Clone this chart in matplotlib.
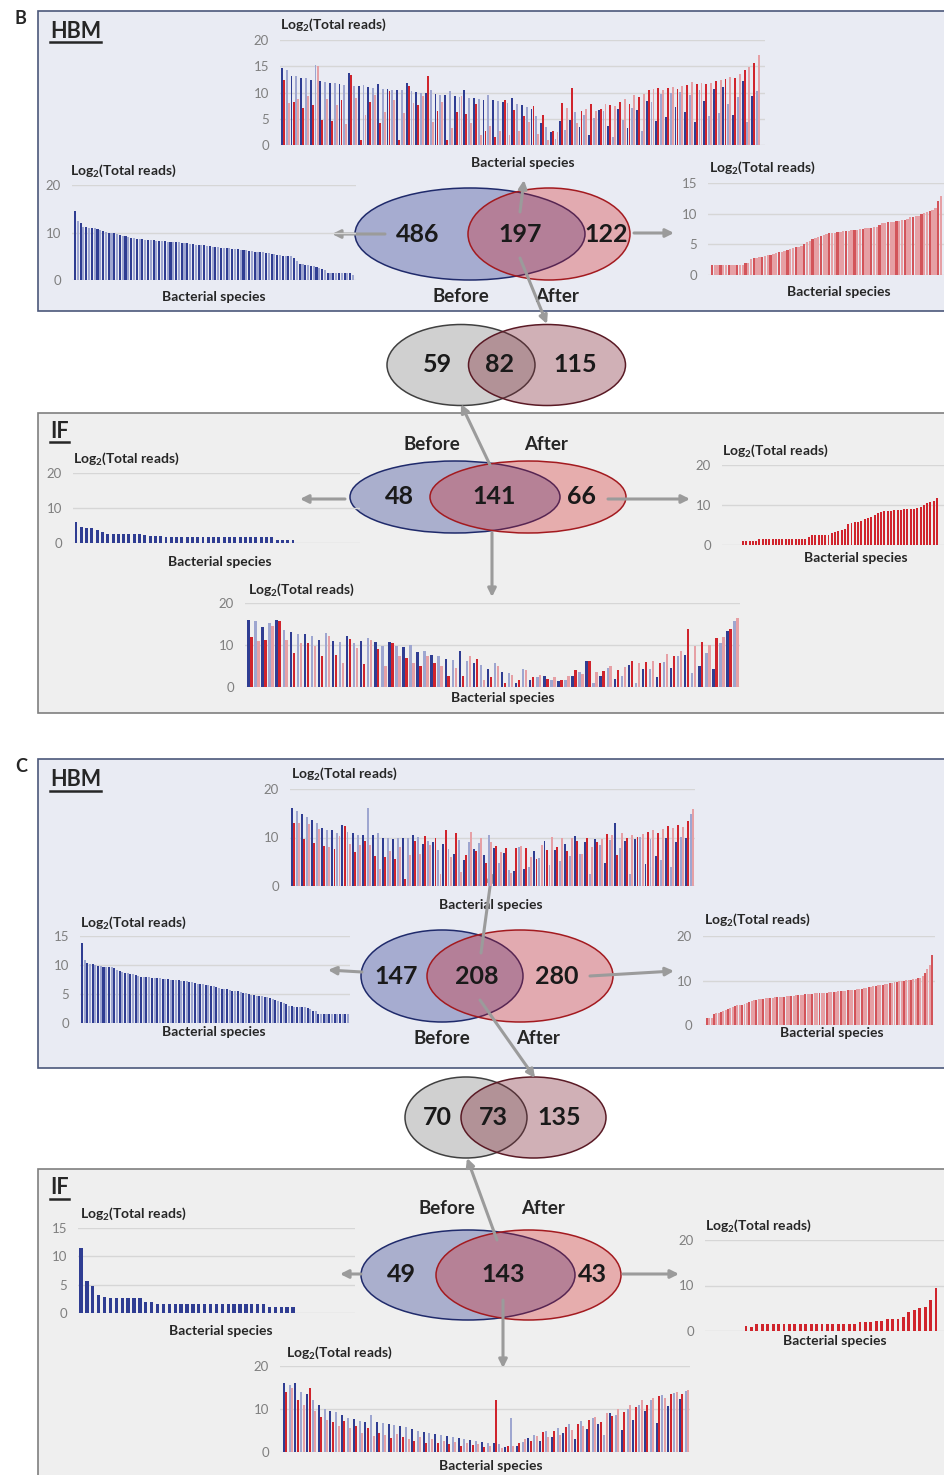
import numpy as np
import matplotlib.pyplot as plt
from matplotlib.patches import Ellipse, Rectangle

# species read counts, log2 scale
# panel B, HBM
hbm_b_shared_before = [
    14.7, 14.3, 13.2, 13.1, 12.8, 12.7, 12.4, 15.3, 12.1, 12.0,
    11.9, 11.8, 11.6, 11.4, 13.7, 11.3, 11.2, 11.4, 11.0, 10.9,
    11.6, 10.7, 10.6, 10.5, 10.4, 10.4, 11.9, 10.3, 10.1, 10.0,
    9.9, 10.4, 9.7, 9.6, 9.5, 10.3, 9.3, 9.2, 10.5, 9.0,
    8.9, 8.8, 8.6, 9.5, 8.5, 8.3, 8.2, 8.0, 8.9, 7.8,
    7.6, 7.3, 6.8, 5.5, 4.2, 3.5,
    2.5, 1.2, 4.6, 2.8, 4.8, 6.2, 3.4, 5.8, 2.0, 5.2,
    6.6, 6.5, 3.6, 1.6, 6.9, 4.7, 3.2, 7.0, 6.7, 2.6,
    8.4, 8.2, 4.5, 9.8, 5.4, 9.9, 7.2, 10.1, 6.2, 9.6,
    4.4, 10.4, 8.4, 5.6, 10.7, 6.1, 11.0, 7.9, 5.8, 9.2,
    12.1, 4.3, 9.3, 10.3]
hbm_b_shared_after = [
    12.3, 8.0, 8.2, 8.7, 7.0, 9.3, 7.6, 15.1, 4.7, 8.8,
    4.6, 7.6, 8.5, 4.0, 13.4, 9.0, 1.0, 5.8, 8.2, 9.5,
    4.1, 6.3, 10.3, 8.6, 1.0, 6.1, 11.3, 8.0, 7.6, 9.4,
    13.2, 4.4, 6.5, 8.2, 1.0, 3.2, 6.2, 9.4, 6.0, 4.2,
    7.9, 2.0, 2.7, 3.6, 1.6, 2.6, 8.5, 1.9, 6.6, 2.7,
    5.6, 4.3, 7.4, 2.1, 5.8, 1.0,
    2.6, 2.4, 8.0, 7.0, 10.8, 4.2, 6.4, 6.8, 7.9, 6.5,
    6.9, 7.8, 7.6, 7.5, 8.1, 8.7, 7.8, 9.6, 9.2, 9.8,
    10.4, 10.6, 10.8, 10.5, 10.9, 11.0, 10.6, 11.2, 11.4, 12.0,
    11.6, 11.8, 11.7, 11.9, 12.2, 12.4, 12.6, 13.0, 12.8, 13.6,
    14.3, 14.8, 15.6, 17.2]
hbm_b_before_only = [
    14.6, 12.5, 12.0, 11.2, 11.1, 11.0, 11.0, 10.9, 10.7, 10.5,
    10.4, 10.2, 10.0, 9.9, 9.8, 9.6, 9.4, 9.3, 9.2, 9.0,
    8.9, 8.8, 8.7, 8.6, 8.6, 8.5, 8.5, 8.4, 8.4, 8.3,
    8.3, 8.2, 8.2, 8.1, 8.0, 8.0, 7.9, 7.9, 7.8, 7.7,
    7.7, 7.6, 7.5, 7.4, 7.4, 7.3, 7.3, 7.2, 7.1, 7.0,
    7.0, 6.9, 6.8, 6.8, 6.7, 6.7, 6.6, 6.6, 6.5, 6.4,
    6.4, 6.3, 6.2, 6.1, 6.0, 6.0, 5.9, 5.8, 5.7, 5.6,
    5.5, 5.4, 5.3, 5.2, 5.1, 5.1, 5.0, 5.0, 4.7, 4.0,
    3.4, 3.3, 3.2, 3.1, 3.0, 2.9, 2.7, 2.6, 2.4, 2.1,
    1.5, 1.5, 1.5, 1.5, 1.5, 1.5, 1.5, 1.5, 1.5, 1.0]
hbm_b_after_only = [
    1.6, 1.6, 1.6, 1.6, 1.6, 1.6, 1.6, 1.6, 1.6, 1.6,
    1.6, 1.6, 2.0, 2.0, 2.6, 2.7, 2.8, 2.9, 3.0, 3.1,
    3.2, 3.3, 3.4, 3.6, 3.7, 3.8, 3.9, 4.0, 4.2, 4.4,
    4.5, 4.6, 4.8, 5.0, 5.3, 5.5, 5.8, 6.0, 6.2, 6.4,
    6.6, 6.7, 6.8, 6.8, 6.9, 7.0, 7.0, 7.1, 7.2, 7.2,
    7.3, 7.4, 7.4, 7.5, 7.5, 7.6, 7.6, 7.7, 7.8, 7.9,
    8.2, 8.4, 8.5, 8.6, 8.7, 8.7, 8.8, 8.8, 8.9, 9.0,
    9.2, 9.4, 9.5, 9.6, 9.7, 9.9, 10.1, 10.3, 10.4, 10.6,
    11.0, 12.0, 12.8]

# panel B, IF
if_b_shared_before = [
    16.0, 15.8, 14.2, 15.2, 16.0, 13.6, 13.2, 12.7, 12.6, 12.1,
    11.3, 12.8, 11.0, 10.8, 12.1, 10.4, 10.9, 11.7, 10.6, 9.8,
    10.7, 9.7, 9.6, 10.1, 8.3, 8.6, 7.6, 7.3, 6.6, 6.4,
    8.6, 6.2, 5.7, 5.3, 4.4, 5.6, 3.5, 3.3, 1.0, 4.3,
    1.6, 2.4, 2.6, 1.6, 1.5, 1.6, 2.6, 3.5, 6.1, 1.0,
    2.6, 4.6, 1.8, 2.6, 5.3, 1.0, 4.2, 4.4, 2.4, 6.0,
    4.6, 7.3, 7.7, 3.4, 5.0, 8.0, 4.2, 10.4, 13.3, 15.8]
if_b_shared_after = [
    12.0, 11.0, 11.2, 14.6, 15.7, 11.3, 8.1, 10.5, 10.4, 9.7,
    7.3, 12.2, 7.6, 5.8, 11.5, 9.2, 5.5, 11.2, 9.1, 4.9,
    10.4, 7.3, 7.0, 5.6, 4.9, 7.5, 5.6, 5.0, 2.6, 4.6,
    2.7, 7.3, 6.7, 1.6, 2.4, 5.0, 1.0, 2.9, 1.6, 4.1,
    2.3, 2.8, 2.0, 2.3, 1.6, 2.6, 4.0, 3.0, 6.2, 3.5,
    3.9, 4.9, 4.1, 4.7, 6.1, 5.7, 6.0, 6.1, 5.8, 7.8,
    7.3, 8.5, 13.7, 9.8, 10.6, 10.0, 11.6, 12.0, 13.7, 16.5]
if_b_before_only = [
    6.0, 4.6, 4.4, 4.2, 3.8, 3.2, 2.6, 2.6, 2.6, 2.6,
    2.6, 2.6, 2.6, 2.3, 2.1, 2.1, 2.1, 1.6, 1.6, 1.6,
    1.6, 1.6, 1.6, 1.6, 1.6, 1.6, 1.6, 1.6, 1.6, 1.6,
    1.6, 1.6, 1.6, 1.6, 1.6, 1.6, 1.6, 1.6, 1.0, 1.0,
    1.0, 1.0]
if_b_after_only = [
    1.0, 1.0, 1.0, 1.0, 1.0, 1.6, 1.6, 1.6, 1.6, 1.6,
    1.6, 1.6, 1.6, 1.6, 1.6, 1.6, 1.6, 1.6, 1.6, 1.6,
    2.0, 2.6, 2.6, 2.6, 2.6, 2.6, 2.6, 3.0, 3.2, 3.5,
    3.8, 4.0, 5.2, 5.6, 5.7, 5.8, 6.1, 6.6, 6.8, 7.1,
    7.6, 8.0, 8.3, 8.5, 8.6, 8.6, 8.7, 8.8, 8.8, 8.9,
    9.0, 9.0, 9.1, 9.2, 9.5, 10.1, 10.4, 10.7, 11.0, 11.7]

# panel C, HBM
hbm_c_shared_before = [
    16.0, 15.4, 14.8, 14.3, 13.7, 13.0, 12.0, 11.6, 11.5, 11.0,
    12.6, 11.2, 10.9, 10.6, 10.5, 16.0, 10.6, 10.9, 9.8, 9.8,
    9.6, 9.8, 10.0, 9.9, 10.5, 10.1, 8.7, 9.3, 9.1, 7.4,
    8.6, 7.6, 6.5, 9.4, 5.4, 9.0, 7.6, 8.8, 6.3, 10.6,
    7.9, 4.8, 6.9, 3.3, 3.0, 8.0, 3.6, 4.0, 7.2, 5.7,
    9.2, 4.3, 7.5, 5.2, 8.6, 6.1, 10.3, 6.5, 9.0, 2.5,
    9.6, 8.4, 4.8, 9.5, 13.0, 7.9, 9.2, 2.5, 9.6, 10.2,
    4.5, 9.7, 6.1, 5.4, 10.0, 4.0, 9.0, 10.2, 9.9, 14.8]
hbm_c_shared_after = [
    13.0, 12.9, 9.7, 12.7, 8.8, 11.8, 8.2, 8.0, 7.7, 10.4,
    12.4, 8.6, 7.0, 8.4, 9.2, 8.5, 6.2, 3.6, 5.9, 7.2,
    5.5, 8.1, 1.5, 6.4, 9.2, 6.5, 10.3, 8.5, 10.0, 2.5,
    11.5, 6.0, 10.9, 2.9, 6.4, 11.2, 7.2, 9.9, 4.8, 9.0,
    8.3, 7.0, 7.9, 2.6, 7.8, 8.2, 7.9, 6.0, 5.6, 8.5,
    7.4, 10.2, 8.0, 9.9, 7.3, 10.0, 9.3, 6.6, 9.8, 8.0,
    9.1, 9.6, 10.8, 10.5, 6.4, 10.9, 9.8, 10.6, 10.1, 10.8,
    11.1, 11.5, 11.0, 11.8, 12.3, 12.0, 12.5, 12.2, 13.4, 15.9]
hbm_c_before_only = [
    13.8, 10.8, 10.3, 10.2, 10.1, 10.0, 9.9, 9.8, 9.7, 9.7,
    9.6, 9.6, 9.5, 9.2, 9.0, 8.8, 8.6, 8.6, 8.5, 8.4,
    8.2, 8.1, 8.0, 8.0, 7.9, 7.9, 7.8, 7.8, 7.7, 7.7,
    7.6, 7.6, 7.6, 7.5, 7.5, 7.4, 7.4, 7.3, 7.2, 7.2,
    7.1, 7.0, 6.9, 6.8, 6.7, 6.7, 6.6, 6.5, 6.4, 6.3,
    6.2, 6.0, 5.9, 5.8, 5.8, 5.7, 5.6, 5.5, 5.5, 5.4,
    5.2, 5.1, 5.0, 4.9, 4.8, 4.7, 4.6, 4.6, 4.5, 4.4,
    4.3, 4.1, 4.0, 3.8, 3.6, 3.4, 3.2, 3.0, 2.9, 2.8,
    2.8, 2.8, 2.7, 2.7, 2.6, 2.5, 2.1, 2.0, 1.6, 1.6,
    1.6, 1.6, 1.6, 1.6, 1.6, 1.6, 1.6, 1.6, 1.6, 1.6]
hbm_c_after_only = [
    1.6, 1.6, 1.6, 2.4, 2.6, 2.8, 3.0, 3.2, 3.4, 3.6,
    3.8, 4.0, 4.2, 4.4, 4.5, 4.6, 4.8, 5.0, 5.2, 5.4,
    5.6, 5.7, 5.8, 5.8, 5.9, 6.0, 6.0, 6.1, 6.1, 6.2,
    6.2, 6.3, 6.4, 6.4, 6.5, 6.5, 6.6, 6.6, 6.7, 6.7,
    6.8, 6.8, 6.9, 6.9, 7.0, 7.0, 7.1, 7.1, 7.2, 7.2,
    7.3, 7.3, 7.4, 7.4, 7.5, 7.5, 7.6, 7.6, 7.7, 7.7,
    7.8, 7.8, 7.9, 7.9, 8.0, 8.1, 8.2, 8.3, 8.4, 8.5,
    8.6, 8.7, 8.8, 8.9, 9.0, 9.1, 9.2, 9.3, 9.4, 9.5,
    9.6, 9.7, 9.8, 9.9, 10.0, 10.1, 10.2, 10.2, 10.3, 10.4,
    10.5, 10.6, 11.0, 11.6, 12.6, 13.5, 15.8]

# panel C, IF
if_c_shared_before = [
    16.0, 15.5, 16.0, 14.0, 13.5, 12.1, 11.0, 10.0, 9.5, 9.2,
    8.5, 8.0, 7.6, 7.3, 7.0, 8.5, 6.9, 6.8, 6.5, 6.2,
    6.0, 5.7, 5.3, 5.0, 4.7, 4.5, 4.2, 4.0, 3.8, 3.5,
    3.3, 3.0, 2.8, 2.5, 2.3, 2.2, 2.0, 1.8, 1.2, 8.0,
    1.5, 2.4, 3.2, 4.0, 2.5, 5.0, 3.6, 5.6, 4.5, 6.4,
    3.0, 7.2, 5.4, 8.0, 6.4, 3.9, 9.0, 8.6, 5.2, 10.0,
    7.5, 11.0, 9.6, 12.0, 6.8, 13.2, 10.6, 13.8, 12.4, 14.2]
if_c_shared_after = [
    14.0, 15.0, 12.0, 11.0, 15.0, 9.5, 8.2, 7.5, 7.0, 6.0,
    7.2, 5.5, 6.0, 4.5, 5.5, 3.8, 4.5, 4.0, 3.2, 4.2,
    3.5, 3.0, 2.5, 3.6, 2.0, 3.0, 2.2, 2.6, 1.8, 2.4,
    1.5, 2.0, 1.6, 1.9, 1.2, 1.5, 12.0, 1.0, 1.5, 1.5,
    2.0, 3.0, 2.5, 3.8, 4.6, 3.4, 5.0, 4.0, 5.8, 5.2,
    6.6, 6.0, 7.5, 8.2, 7.0, 9.0, 8.4, 10.0, 9.2, 11.0,
    10.4, 12.0, 11.0, 12.6, 13.0, 12.5, 13.4, 14.0, 13.6, 14.4]
if_c_before_only = [
    11.4, 5.6, 4.8, 3.2, 2.8, 2.6, 2.6, 2.6, 2.6, 2.6,
    2.6, 2.0, 2.0, 1.6, 1.6, 1.6, 1.6, 1.6, 1.6, 1.6,
    1.6, 1.6, 1.6, 1.6, 1.6, 1.6, 1.6, 1.6, 1.6, 1.6,
    1.6, 1.6, 1.0, 1.0, 1.0, 1.0, 1.0]
if_c_after_only = [
    1.0, 0.8, 1.5, 1.5, 1.5, 1.5, 1.5, 1.5, 1.5, 1.5,
    1.5, 1.5, 1.5, 1.5, 1.5, 1.5, 1.5, 1.5, 1.5, 1.5,
    1.5, 2.0, 2.0, 2.0, 2.3, 2.3, 2.6, 2.6, 2.6, 3.1,
    4.2, 4.7, 5.1, 5.3, 6.8, 9.5]

# venn counts: before-only, shared, after-only
venn_b_hbm = [486, 197, 122]
venn_b_mid = [59, 82, 115]
venn_b_if = [48, 141, 66]
venn_c_hbm = [147, 208, 280]
venn_c_mid = [70, 73, 135]
venn_c_if = [49, 143, 43]

W, H = 945, 1475
plt.rcParams['font.family'] = ['Lato', 'DejaVu Sans']
plt.rcParams['mathtext.fontset'] = 'custom'
plt.rcParams['mathtext.rm'] = 'Lato'
plt.rcParams['mathtext.bf'] = 'Lato:bold'

BLUE, BLUE_LT = '#2f3d92', '#9ea6d0'
RED, RED_LT = '#d0242c', '#e6a0a5'
TXT = '#262626'
ARROW = '#9b9b9b'

fig = plt.figure(figsize=(W / 100, H / 100), dpi=100)
cv = fig.add_axes([0, 0, 1, 1])
cv.set_xlim(0, W)
cv.set_ylim(H, 0)
cv.axis('off')


def text(x, y, s, size=10, ha='left', color=TXT):
    cv.text(x, y, s, fontsize=size, fontweight='bold', color=color,
            ha=ha, va='center')


def heading(x, y, s, width):
    text(x, y, s, size=15.5)
    cv.plot([x, x + width], [y + 11, y + 11], color=TXT, lw=1.8)


def box(y0, y1, fc, ec):
    cv.add_patch(Rectangle((38, y0), 960, y1 - y0, fc=fc, ec=ec, lw=1.2))


def arrow(p0, p1):
    cv.annotate('', xy=p1, xytext=p0, zorder=5,
                arrowprops=dict(arrowstyle='-|>', color=ARROW, lw=2.2,
                                mutation_scale=12, shrinkA=0, shrinkB=0))


def venn(c1, w1, c2, w2, cy, h, counts, fc1, ec1, fc2, ec2, pos):
    cv.add_patch(Ellipse((c1, cy), w1, h, fc=fc1, ec=ec1, lw=1.1, zorder=3))
    cv.add_patch(Ellipse((c2, cy), w2, h, fc=fc2, ec=ec2, lw=1.1, zorder=3))
    for n, x in zip(counts, pos):
        cv.text(x, cy, str(n), fontsize=18, fontweight='bold', color='#1a1a1a',
                ha='center', va='center', zorder=6)


def panel(x0, x1, ytop, yzero, ymax, ticks, title_xy, xlabel_xy):
    ax = fig.add_axes([x0 / W, 1 - yzero / H, (x1 - x0) / W, (yzero - ytop) / H])
    ax.patch.set_alpha(0)
    ax.set_ylim(0, ymax)
    ax.set_yticks(ticks)
    ax.set_xticks([])
    ax.tick_params(axis='y', length=0, pad=8, labelsize=9.5, labelcolor='#7f7f7f')
    for s in ax.spines.values():
        s.set_visible(False)
    ax.yaxis.grid(True, color='#d6d6d6', lw=1)
    ax.set_axisbelow(True)
    text(*title_xy, r'Log$_\mathbf{2}$(Total reads)')
    text(*xlabel_xy, 'Bacterial species', ha='center')
    return ax


def fit_x(ax, n, x0, x1, b0, b1):
    slot = (b1 - b0) / max(n - 1, 1)
    ax.set_xlim(-(b0 - x0) / slot, n - 1 + (x1 - b1) / slot)


def sorted_bars(ax, vals, dark, light, width=0.75, every=2):
    cols = [dark if i % every == 0 else light for i in range(len(vals))]
    ax.bar(np.arange(len(vals)), vals, width=width, color=cols, lw=0)


def paired_bars(ax, before, after, width=0.38):
    x = np.arange(len(before))
    cb = [BLUE if i % 2 == 0 else BLUE_LT for i in x]
    cr = [RED if i % 2 == 0 else RED_LT for i in x]
    ax.bar(x - 0.21, before, width=width, color=cb, lw=0)
    ax.bar(x + 0.21, after, width=width, color=cr, lw=0)


# ---------- panel B ----------
text(15, 18, 'B', size=13)
box(11, 311, '#e9ebf3', '#4b587a')
heading(50, 31, 'HBM', 51)

ax = panel(280, 765, 40, 145, 20, [0, 5, 10, 15, 20], (280, 25), (523, 163))
paired_bars(ax, hbm_b_shared_before, hbm_b_shared_after)
fit_x(ax, len(hbm_b_shared_before), 280, 765, 283, 758)

ax = panel(72, 356, 185, 280, 20, [0, 10, 20], (70, 171), (214, 297))
sorted_bars(ax, hbm_b_before_only, BLUE, BLUE_LT)
fit_x(ax, len(hbm_b_before_only), 72, 356, 75, 353)

ax = panel(708, 945, 183, 275, 15, [0, 5, 10, 15], (709, 168), (839, 292))
sorted_bars(ax, hbm_b_after_only, '#d2545a', RED_LT, width=0.85, every=3)
fit_x(ax, len(hbm_b_after_only), 708, 945, 712, 941)

venn(470, 230, 549, 162, 234, 92, venn_b_hbm,
     (0.17, 0.22, 0.56, 0.35), '#1f2a6b', (0.83, 0.11, 0.11, 0.31), '#a31a1f',
     (418, 520, 606))
text(461, 296, 'Before', size=13.5, ha='center')
text(557, 296, 'After', size=13.5, ha='center')
arrow((385, 234), (332, 234))
arrow((634, 233), (674, 233))
arrow((520, 212), (524, 180))
arrow((520, 258), (547, 324))

venn(461, 148, 547, 157, 365, 81, venn_b_mid,
     '#d0d0d0', '#404040', (0.48, 0.12, 0.18, 0.35), '#5a1a25',
     (437, 500, 575))

box(413, 713, '#efefef', '#7f7f7f')
heading(50, 431, 'IF', 19)

ax = panel(73, 360, 473, 543, 20, [0, 10, 20], (73, 459), (220, 562))
sorted_bars(ax, if_b_before_only, BLUE, BLUE, width=0.55)
fit_x(ax, len(if_b_before_only), 73, 360, 76, 293)

ax = panel(722, 945, 465, 545, 20, [0, 10, 20], (722, 451), (856, 558))
sorted_bars(ax, if_b_after_only, RED, RED, width=0.6)
fit_x(ax, len(if_b_after_only), 722, 945, 743, 937)

ax = panel(245, 740, 603, 687, 20, [0, 10, 20], (248, 590), (503, 698))
paired_bars(ax, if_b_shared_before, if_b_shared_after, width=0.34)
fit_x(ax, len(if_b_shared_before), 245, 740, 250, 736)

venn(455, 210, 528, 196, 497, 72, venn_b_if,
     (0.17, 0.22, 0.56, 0.35), '#1f2a6b', (0.83, 0.11, 0.11, 0.31), '#a31a1f',
     (399, 494, 581))
text(432, 445, 'Before', size=13.5, ha='center')
text(546, 445, 'After', size=13.5, ha='center')
arrow((345, 499), (300, 499))
arrow((608, 499), (690, 499))
arrow((492, 533), (492, 597))
arrow((490, 465), (461, 404))

# ---------- panel C ----------
text(15, 767, 'C', size=13)
box(759, 1068, '#e9ebf3', '#4b587a')
heading(50, 780, 'HBM', 51)

ax = panel(290, 695, 789, 886, 20, [0, 10, 20], (291, 774), (491, 905))
paired_bars(ax, hbm_c_shared_before, hbm_c_shared_after)
fit_x(ax, len(hbm_c_shared_before), 290, 695, 293, 692)

ax = panel(80, 350, 936, 1023, 15, [0, 5, 10, 15], (80, 923), (214, 1032))
sorted_bars(ax, hbm_c_before_only, BLUE, BLUE_LT)
fit_x(ax, len(hbm_c_before_only), 80, 350, 82, 348)

ax = panel(703, 935, 936, 1025, 20, [0, 10, 20], (704, 920), (832, 1033))
sorted_bars(ax, hbm_c_after_only, '#d2545a', RED_LT, width=0.85, every=3)
fit_x(ax, len(hbm_c_after_only), 703, 935, 707, 932)

venn(442, 162, 520, 186, 976, 92, venn_c_hbm,
     (0.17, 0.22, 0.56, 0.35), '#1f2a6b', (0.83, 0.11, 0.11, 0.31), '#a31a1f',
     (396, 477, 557))
text(442, 1039, 'Before', size=13.5, ha='center')
text(538, 1039, 'After', size=13.5, ha='center')
arrow((362, 972), (328, 970))
arrow((590, 976), (674, 971))
arrow((481, 953), (492, 872))
arrow((480, 1000), (535, 1078))

venn(466, 122, 533.5, 145, 1117.5, 81, venn_c_mid,
     '#d0d0d0', '#404040', (0.48, 0.12, 0.18, 0.35), '#5a1a25',
     (437, 493, 559))

box(1169, 1500, '#efefef', '#7f7f7f')
heading(50, 1188, 'IF', 19)

ax = panel(78, 355, 1228, 1313, 15, [0, 5, 10, 15], (80, 1214), (221, 1331))
sorted_bars(ax, if_c_before_only, BLUE, BLUE, width=0.55)
fit_x(ax, len(if_c_before_only), 78, 355, 81, 293)

ax = panel(705, 945, 1240, 1331, 20, [0, 10, 20], (705, 1226), (835, 1341))
sorted_bars(ax, if_c_after_only, RED, RED, width=0.55)
fit_x(ax, len(if_c_after_only), 705, 945, 746, 936)

ax = panel(280, 690, 1366, 1452, 20, [0, 10, 20], (286, 1353), (491, 1466))
paired_bars(ax, if_c_shared_before, if_c_shared_after, width=0.34)
fit_x(ax, len(if_c_shared_before), 280, 690, 285, 687)

venn(468, 214, 528.5, 185, 1275, 90, venn_c_if,
     (0.17, 0.22, 0.56, 0.35), '#1f2a6b', (0.83, 0.11, 0.11, 0.31), '#a31a1f',
     (401, 503, 592))
text(447, 1209, 'Before', size=13.5, ha='center')
text(543, 1209, 'After', size=13.5, ha='center')
arrow((361, 1274), (340, 1274))
arrow((623, 1274), (679, 1274))
arrow((503, 1300), (503, 1368))
arrow((497, 1240), (467, 1158))

fig.savefig('out.png', dpi=100)
